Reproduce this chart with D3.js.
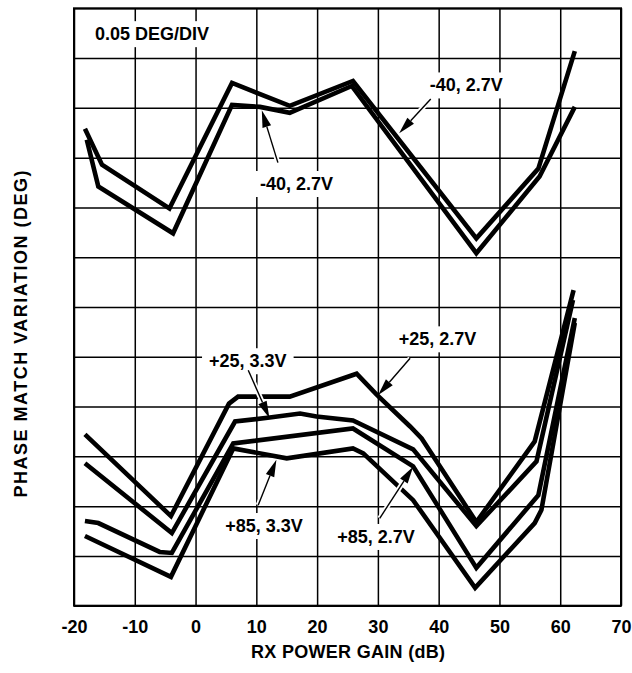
<!DOCTYPE html>
<html>
<head>
<meta charset="utf-8">
<script src="https://cdn.jsdelivr.net/npm/d3@7"></script>
<style>
  html, body { margin: 0; padding: 0; background: #fff; }
  text { font-family: "Liberation Sans", Arial, Helvetica, sans-serif; font-weight: bold; }
</style>
</head>
<body>
<div id="viz-container"></div>
<script>
// x tick labels (dB)
const xTicks = [-20, -10, 0, 10, 20, 30, 40, 50, 60, 70];

// -40C curves
const m40aGain  = [-18.2, -15.4, -4.3, 6.0, 15.5, 25.9, 46.2, 56.4, 62.4];
const m40aPhase = [0.479, 0.443, 0.399, 0.525, 0.502, 0.527, 0.369, 0.439, 0.557];
const m40bGain  = [-17.9, -16.0, -3.7, 6.0, 10.6, 15.5, 25.7, 46.2, 56.6, 62.4];
const m40bPhase = [0.468, 0.421, 0.374, 0.503, 0.501, 0.495, 0.522, 0.354, 0.431, 0.501];

// +25C / +85C curves
const p25v27Gain  = [-18.2, -4.05, 5.5, 7.0, 15.5, 26.5, 29.8, 35.3, 37.2, 46.2, 55.8, 62.2];
const p25v27Phase = [0.172, 0.090, 0.203, 0.210, 0.210, 0.233, 0.212, 0.180, 0.168, 0.084, 0.165, 0.317];
const p25v33Gain  = [-18.2, -3.9, 6.5, 12.2, 17.2, 19.9, 25.9, 35.8, 46.2, 56.1, 62.1];
const p25v33Phase = [0.143, 0.073, 0.185, 0.189, 0.193, 0.190, 0.186, 0.157, 0.080, 0.145, 0.307];
const p85v27Gain  = [-18.2, -16.0, -5.9, -3.9, 6.2, 25.9, 35.8, 46.2, 56.4, 62.4];
const p85v27Phase = [0.085, 0.083, 0.054, 0.053, 0.163, 0.178, 0.140, 0.038, 0.111, 0.289];
const p85v33Gain  = [-18.2, -4.05, 6.2, 15.0, 25.9, 27.6, 35.8, 46.0, 55.8, 56.9, 62.4];
const p85v33Phase = [0.070, 0.029, 0.158, 0.148, 0.158, 0.153, 0.106, 0.018, 0.083, 0.096, 0.284];

const series = [
  [m40aGain, m40aPhase], [m40bGain, m40bPhase],
  [p25v27Gain, p25v27Phase], [p25v33Gain, p25v33Phase],
  [p85v27Gain, p85v27Phase], [p85v33Gain, p85v33Phase]
];

// annotation labels: text, text anchor point, arrow start, arrow tip (data units)
const labelTexts = ['-40, 2.7V', '-40, 2.7V', '+25, 3.3V', '+85, 3.3V', '+25, 2.7V', '+85, 2.7V'];
const labelPos   = [[16.6, 0.4175], [44.55, 0.5165], [8.6, 0.2395], [11.25, 0.074], [39.8, 0.2615], [29.7, 0.063]];
const arrowFrom  = [[13.55, 0.445], [38.7, 0.509], [8.67, 0.2365], [10.3, 0.101], [35.3, 0.2485], [30.3, 0.0878]];
const arrowTo    = [[10.9, 0.4975], [33.5, 0.4745], [12.15, 0.1885], [13.3, 0.1465], [30.05, 0.2115], [35.8, 0.1395]];

const W = 632, H = 673;
const margin = { top: 8.3, right: 11, bottom: 67.3, left: 74 };
const width = W - margin.left - margin.right;
const height = H - margin.top - margin.bottom;

const x = d3.scaleLinear().domain([-20, 70]).range([0, width]);
const y = d3.scaleLinear().domain([0, 0.6]).range([height, 0]);

const svg = d3.select('#viz-container')
  .append('svg')
  .attr('width', W)
  .attr('height', H)
  .append('g')
  .attr('transform', `translate(${margin.left},${margin.top})`);

// --- grid ---
const xAxis = svg.append('g')
  .attr('transform', `translate(0,${height})`)
  .call(d3.axisBottom(x).tickValues(xTicks).tickSize(-height).tickPadding(14.5).tickFormat(d3.format('d')));
xAxis.select('.domain').remove();
xAxis.selectAll('line').attr('stroke', '#000').attr('stroke-width', 1.5);
xAxis.selectAll('text')
  .attr('fill', '#000')
  .style('font-size', '18px')
  .text(d => d < 0 ? '-' + Math.abs(d) : d);

const yAxis = svg.append('g')
  .call(d3.axisLeft(y).tickValues(d3.range(0, 0.6001, 0.05)).tickSize(-width).tickFormat(''));
yAxis.select('.domain').remove();
yAxis.selectAll('line').attr('stroke', '#000').attr('stroke-width', 1.5);

svg.append('rect')
  .attr('width', width).attr('height', height)
  .attr('fill', 'none').attr('stroke', '#000').attr('stroke-width', 2);

// --- labels with white boxes ---
const boxLayer = svg.append('g');
const curveLayer = svg.append('g');
const arrowLayer = svg.append('g');
const textLayer = svg.append('g');

function boxedText(str, px, py, anchor) {
  const t = textLayer.append('text')
    .attr('x', px).attr('y', py)
    .attr('text-anchor', anchor)
    .style('font-size', '18px')
    .attr('fill', '#000')
    .text(str);
  const bb = t.node().getBBox();
  boxLayer.append('rect')
    .attr('x', bb.x - 7).attr('y', bb.y - 3)
    .attr('width', bb.width + 14).attr('height', bb.height + 6)
    .attr('fill', '#fff');
}

boxedText('0.05 DEG/DIV', x(-16.55), y(0.568), 'start');

// --- curves ---
const line = d3.line().x(d => x(d[0])).y(d => y(d[1]));
series.forEach(([gx, ph]) => {
  curveLayer.append('path')
    .attr('d', line(gx.map((g, i) => [g, ph[i]])))
    .attr('fill', 'none')
    .attr('stroke', '#000')
    .attr('stroke-width', 4.6)
    .attr('stroke-linejoin', 'miter');
});

// --- arrows + annotation text ---
labelTexts.forEach((lbl, i) => {
  boxedText(lbl, x(labelPos[i][0]), y(labelPos[i][1]), 'middle');
  const x1 = x(arrowFrom[i][0]), y1 = y(arrowFrom[i][1]);
  const x2 = x(arrowTo[i][0]), y2 = y(arrowTo[i][1]);
  const len = Math.hypot(x2 - x1, y2 - y1);
  const ux = (x2 - x1) / len, uy = (y2 - y1) / len;
  const hl = 17, hw = 4.5;
  const bx = x2 - ux * hl, by = y2 - uy * hl;
  arrowLayer.append('line')
    .attr('x1', x1).attr('y1', y1).attr('x2', bx).attr('y2', by)
    .attr('stroke', '#fff').attr('stroke-width', 5);
  arrowLayer.append('line')
    .attr('x1', x1).attr('y1', y1).attr('x2', bx).attr('y2', by)
    .attr('stroke', '#000').attr('stroke-width', 1.4);
  arrowLayer.append('path')
    .attr('d', `M${x2},${y2}L${bx - uy * hw},${by + ux * hw}L${bx + uy * hw},${by - ux * hw}Z`)
    .attr('fill', '#000');
});

// --- axis titles ---
svg.append('text')
  .attr('x', 348 - margin.left).attr('y', 658 - margin.top)
  .attr('text-anchor', 'middle')
  .attr('textLength', 194)
  .attr('lengthAdjust', 'spacing')
  .style('font-size', '18px')
  .text('RX POWER GAIN (dB)');

svg.append('text')
  .attr('transform', `translate(${26.5 - margin.left},${334 - margin.top}) rotate(-90)`)
  .attr('text-anchor', 'middle')
  .attr('textLength', 327)
  .attr('lengthAdjust', 'spacing')
  .style('font-size', '18px')
  .text('PHASE MATCH VARIATION (DEG)');
</script>
</body>
</html>
